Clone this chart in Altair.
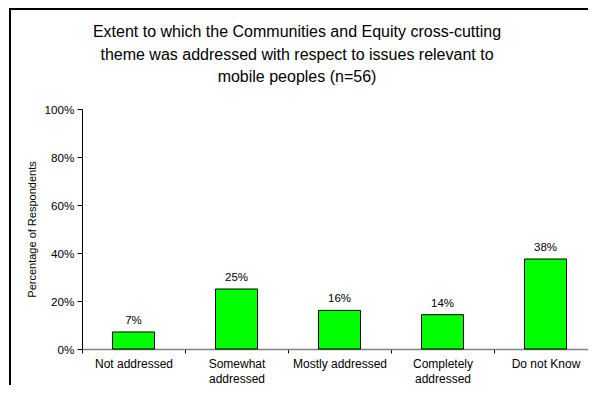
import altair as alt
import pandas as pd

# Data (n=56)
categories = ["Not addressed", "Somewhat\naddressed", "Mostly addressed",
              "Completely\naddressed", "Do not Know"]
percentages = [0.071, 0.25, 0.161, 0.143, 0.375]
value_labels = ["7%", "25%", "16%", "14%", "38%"]
y_ticks = [0, 0.2, 0.4, 0.6, 0.8, 1.0]
title_lines = [
    "Extent to which the Communities and Equity cross-cutting",
    "theme was addressed with respect to issues relevant to",
    "mobile peoples (n=56)",
]
y_title = "Percentage of Respondents"

FONT = "Liberation Sans"

df = pd.DataFrame({"category": categories, "pct": percentages, "label": value_labels})

x_enc = alt.X(
    "category:N",
    sort=categories,
    scale=alt.Scale(range=[0, 515], paddingInner=0, paddingOuter=0),
    axis=alt.Axis(
        title=None,
        labelAngle=0,
        tickBand="extent",
        domainColor="#808080",
        domainWidth=1.5,
        tickColor="#000000",
        tickSize=4,
        labelFontSize=12,
        labelColor="#000000",
        labelPadding=5,
        labelLineHeight=15,
        labelExpr="split(datum.label, '\\n')",
    ),
)
y_enc = alt.Y(
    "pct:Q",
    scale=alt.Scale(domain=[0, 1], nice=False),
    axis=alt.Axis(
        format="%",
        values=y_ticks,
        grid=False,
        tickSize=5,
        tickColor="#000000",
        domainColor="#000000",
        labelFontSize=11.7,
        labelColor="#000000",
        labelPadding=3,
        title=y_title,
        titleFontSize=11,
        titleFontWeight="normal",
        titleColor="#000000",
        titleX=-50,
        titleY=120,
        titleAlign="center",
        titleBaseline="middle",
    ),
)

bars = alt.Chart(df).mark_bar(
    size=42, color="#00FF00", stroke="#000000", strokeWidth=1
).encode(x=x_enc, y=y_enc)

texts = alt.Chart(df).mark_text(
    dy=-6, baseline="bottom", fontSize=11.5, color="#000000"
).encode(x=alt.X("category:N", sort=categories), y="pct:Q", text="label:N")

single = alt.Data(values=[{"k": 1}])
top_border = alt.Chart(single).mark_rule(color="#000000", strokeWidth=2).encode(
    x=alt.value(-72), x2=alt.value(700), y=alt.value(-100)
)
left_border = alt.Chart(single).mark_rule(color="#000000", strokeWidth=2).encode(
    x=alt.value(-72), y=alt.value(-101), y2=alt.value(400)
)
title_text = alt.Chart(single).mark_text(
    text=title_lines,
    fontSize=16,
    lineHeight=22.5,
    align="center",
    baseline="middle",
    color="#000000",
).encode(x=alt.value(215), y=alt.value(-77))

chart = alt.layer(bars, texts, top_border, left_border, title_text).properties(
    width=506,
    height=240,
    autosize=alt.AutoSizeParams(type="none"),
    padding={"left": 74, "top": 101, "right": 0, "bottom": 36},
).configure(font=FONT).configure_view(stroke=None)

chart.save("out.html", embed_options={"renderer": "svg", "actions": False})
